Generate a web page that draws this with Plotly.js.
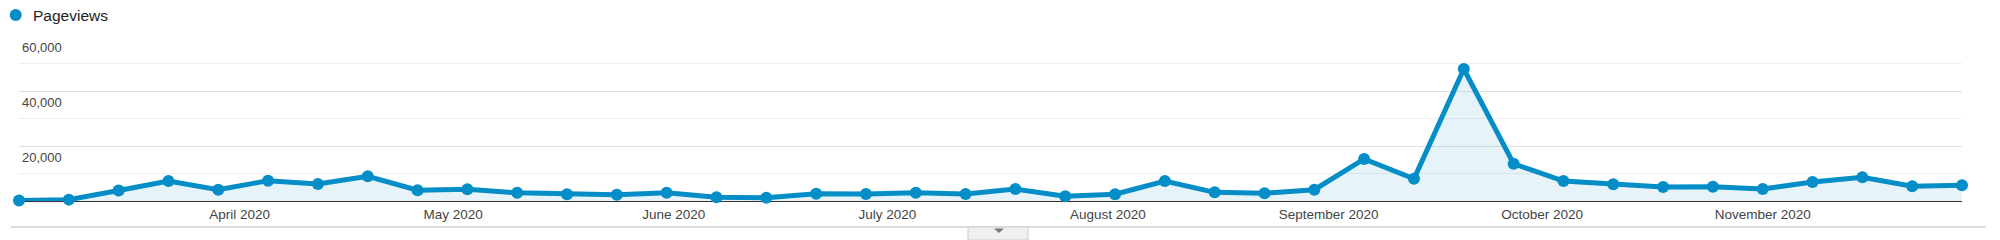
<!DOCTYPE html>
<html>
<head>
<meta charset="utf-8">
<script src="https://cdn.plot.ly/plotly-3.0.1.min.js"></script>
<style>
  html, body { margin: 0; padding: 0; background: #fff; }
  #chart { width: 2000px; height: 240px; }
</style>
</head>
<body>
<div id="chart"></div>
<script>
// Weekly pageviews (weeks starting on Sunday)
var weeks = [
  '2020-03-01','2020-03-08','2020-03-15','2020-03-22','2020-03-29',
  '2020-04-05','2020-04-12','2020-04-19','2020-04-26',
  '2020-05-03','2020-05-10','2020-05-17','2020-05-24','2020-05-31',
  '2020-06-07','2020-06-14','2020-06-21','2020-06-28',
  '2020-07-05','2020-07-12','2020-07-19','2020-07-26',
  '2020-08-02','2020-08-09','2020-08-16','2020-08-23','2020-08-30',
  '2020-09-06','2020-09-13','2020-09-20','2020-09-27',
  '2020-10-04','2020-10-11','2020-10-18','2020-10-25',
  '2020-11-01','2020-11-08','2020-11-15','2020-11-22','2020-11-29'
];
var pageviews = [
  200, 500, 3800, 7300, 4100,
  7400, 6200, 9000, 3900,
  4250, 3000, 2450, 2300, 3000,
  1350, 1200, 2650, 2550,
  3000, 2550, 4350, 1700,
  2450, 7250, 3150, 2800, 4100,
  15300, 8100, 48000, 13550,
  7250, 6050, 5100, 5200,
  4350, 6900, 8600, 5350, 5700
];
var xTickVals = ['2020-03-01','2020-04-01','2020-05-01','2020-06-01','2020-07-01',
                 '2020-08-01','2020-09-01','2020-10-01','2020-11-01'];
var xTickText = ['...','April 2020','May 2020','June 2020','July 2020',
                 'August 2020','September 2020','October 2020','November 2020'];
var yTickVals = [20000, 40000, 60000];
var yTickText = ['20,000', '40,000', '60,000'];
var yMinorVals = [10000, 30000, 50000];
var yMax = 60000;
var seriesName = 'Pageviews';

var blue = '#058DC7';

var trace = {
  x: weeks,
  y: pageviews,
  type: 'scatter',
  mode: 'lines+markers',
  name: seriesName,
  fill: 'tozeroy',
  fillcolor: 'rgba(5,141,199,0.1)',
  line: { color: blue, width: 5 },
  marker: { color: blue, size: 12 },
  cliponaxis: false,
  hoverinfo: 'x+y'
};

// plot area geometry (pixels) used to place decorations
// plot top is 1px above the 60,000 gridline so that gridline is drawn
var L = 19, R = 1962, T = 35, B = 201, G = 36;
function px(x) { return (x - L) / (R - L); }
function py(y) { return (B - y) / (B - T); }

var layout = {
  width: 2000,
  height: 240,
  margin: { l: L, r: 2000 - R, t: T, b: 240 - B, pad: 0 },
  paper_bgcolor: '#fff',
  plot_bgcolor: '#fff',
  showlegend: false,
  font: { family: 'Liberation Sans, Arial, sans-serif', color: '#444' },
  xaxis: {
    type: 'date',
    range: [weeks[0], weeks[weeks.length - 1]],
    tickmode: 'array',
    tickvals: xTickVals,
    ticktext: xTickText,
    showgrid: false,
    zeroline: false,
    showline: false,
    ticks: '',
    ticklabelstandoff: 3,
    tickfont: { size: 13.5, color: '#444' },
    fixedrange: true
  },
  yaxis: {
    range: [0, yMax * (B - T) / (B - G)],
    tickmode: 'array',
    tickvals: yTickVals,
    ticktext: yTickText,
    showgrid: true,
    gridcolor: '#e0e0e0',
    gridwidth: 1,
    minor: { tickmode: 'array', tickvals: yMinorVals, showgrid: true, gridcolor: '#efefef', gridwidth: 1 },
    zeroline: true,
    zerolinecolor: '#333',
    zerolinewidth: 1,
    showline: false,
    ticks: '',
    ticklabelposition: 'inside',
    ticklabelstandoff: 0,
    ticklabelshift: 11,
    tickfont: { size: 13, color: '#444' },
    fixedrange: true
  },
  annotations: [
    {
      xref: 'paper', yref: 'paper',
      x: px(31), y: py(15),
      xanchor: 'left', yanchor: 'middle',
      text: seriesName,
      showarrow: false,
      font: { size: 15.5, color: '#222' }
    }
  ],
  shapes: [
    // legend dot
    {
      type: 'circle', xref: 'paper', yref: 'paper',
      xsizemode: 'pixel', ysizemode: 'pixel',
      xanchor: px(15.7), yanchor: py(15),
      x0: -6, x1: 6, y0: -6, y1: 6,
      fillcolor: blue, line: { width: 0 }
    },
    // bottom separator line
    {
      type: 'line', xref: 'paper', yref: 'paper',
      x0: px(11), x1: px(1986), y0: py(227), y1: py(227),
      line: { color: '#dcdcdc', width: 2 }
    },
    // tab
    {
      type: 'rect', xref: 'paper', yref: 'paper',
      x0: px(968), x1: px(1028), y0: py(227), y1: py(240),
      fillcolor: '#efefef', line: { color: '#cfcfcf', width: 1 }
    },
    // tab arrow
    {
      type: 'path', xref: 'paper', yref: 'paper',
      xsizemode: 'pixel', ysizemode: 'pixel',
      xanchor: px(999), yanchor: py(230.5),
      path: 'M-5,2 L5,2 L0,-2.5 Z',
      fillcolor: '#777', line: { width: 0 }
    }
  ]
};

Plotly.newPlot('chart', [trace], layout, { displayModeBar: false, staticPlot: true });
</script>
</body>
</html>
